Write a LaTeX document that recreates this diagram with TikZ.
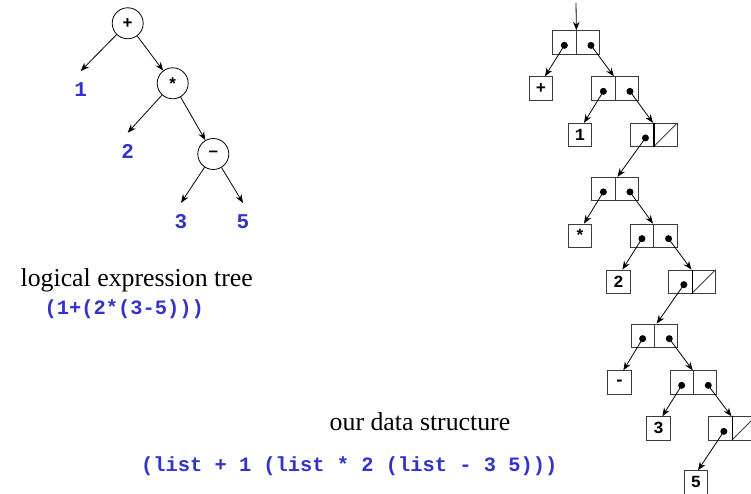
\documentclass[tikz,border=0pt]{standalone}
\usepackage{fontspec}
\setmainfont{Liberation Serif}
\setsansfont{Liberation Sans}
\setmonofont{Liberation Mono}
\usetikzlibrary{arrows.meta,calc}
\definecolor{codeblue}{RGB}{51,51,204}
\definecolor{boxgray}{RGB}{60,60,60}
\newcommand\conscell[3]{%
  \node[half] (#1a) at (#2+11.65,#3+11.65) {};
  \node[half] (#1b) at (#2+34.95,#3+11.65) {};
  \coordinate (#1l) at ($(#1a.center)+(0,3)$);
  \coordinate (#1r) at ($(#1b.center)+(3.3,3)$);
  \fill (#1l) circle (3.5pt);
  \fill (#1r) circle (3.5pt);
}
\newcommand\nilcell[3]{%
  \node[half] (#1a) at (#2+11.65,#3+11.65) {};
  \node[half] (#1b) at (#2+34.95,#3+11.65) {};
  \draw[boxgray,line width=0.8pt] (#1b.south west) -- (#1b.north east);
  \draw[line width=1.5pt] (#1a.north east) -- (#1a.south east);
  \coordinate (#1l) at ($(#1a.center)+(3.5,3)$);
  \fill (#1l) circle (3.5pt);
}
\begin{document}
\begin{tikzpicture}[x=1pt,y=-1pt,
  arr/.style={-{Stealth[length=8.5pt,width=6.5pt]},line width=0.8pt},
  opnode/.style={circle,draw,line width=0.8pt,minimum size=31pt,inner sep=0pt,
    font=\sffamily\bfseries\fontsize{17}{20}\selectfont},
  leaf/.style={text=codeblue,font=\ttfamily\bfseries\fontsize{21}{24}\selectfont,
    inner sep=0pt,outer sep=12pt},
  half/.style={rectangle,draw=boxgray,line width=0.8pt,minimum size=23.3pt,inner sep=0pt},
  atom/.style={half,font=\ttfamily\bfseries\fontsize{17}{20}\selectfont},
  caption/.style={anchor=base,font=\fontsize{25.8}{30}\selectfont},
  code/.style={anchor=base,text=codeblue,font=\ttfamily\bfseries\fontsize{20.4}{24}\selectfont}
]
\clip (0,0) rectangle (751,494);
% ---------- expression tree ----------
\node[opnode] (tplus) at (127.7,23.3) {+};
\node[opnode] (ttimes) at (172.7,83.3) {*};
\node[opnode] (tminus) at (213.3,154) {–};
\node[leaf] (t1) at (80.7,90) {1};
\node[leaf] (t2) at (127.7,151.7) {2};
\node[leaf] (t3) at (181,222) {3};
\node[leaf] (t5) at (243,222) {5};
\draw[arr] (tplus) -- (t1.north);
\draw[arr] (tplus) -- (ttimes);
\draw[arr] (ttimes) -- (t2.north);
\draw[arr] (ttimes) -- (tminus);
\draw[arr] (tminus) -- (t3.north);
\draw[arr] (tminus) -- (t5.north);
\node[caption] (cap1) at (136.7,286.7) {logical expression tree};
\node[code] (code1) at (124.2,314) {(1+(2*(3-5)))};
\node[caption] (cap2) at (420,430) {our data structure};
\node[code] (code2) at (349.2,471) {(list + 1 (list * 2 (list - 3 5)))};
% ---------- data structure ----------
\coordinate (top) at (576,3);
\conscell{c1}{552.7}{30.7}
\conscell{c2}{591.7}{76.7}
\nilcell{c3}{630.3}{123.3}
\conscell{c4}{591.7}{177.3}
\conscell{c5}{630.3}{224}
\nilcell{c6}{668.7}{270}
\conscell{c7}{631}{324}
\conscell{c8}{670}{370.7}
\nilcell{c9}{708.7}{416.7}
\node[atom] (aplus) at (529.3+11.65,76.7+11.65) {+};
\node[atom] (aone) at (568.3+11.65,123.3+11.65) {1};
\node[atom] (atimes) at (568.3+11.65,224+11.65) {*};
\node[atom] (atwo) at (606.7+11.65,270+11.65) {2};
\node[atom] (aminus) at (607.7+11.65,370.7+11.65) {-};
\node[atom] (athree) at (646.7+11.65,416.7+11.65) {3};
\node[atom] (afive) at (684.3+11.65,470.7+11.65) {5};
\draw[arr] (top) -- (c1a.north east);
\draw[arr] (c1l) -- ([xshift=4pt]aplus.north);
\draw[arr] (c1r) -- ([xshift=-1.5pt]c2a.north east);
\draw[arr] (c2l) -- ([xshift=4pt]aone.north);
\draw[arr] (c2r) -- ([xshift=-1pt]c3a.north east);
\draw[arr] (c3l) -- ([xshift=2pt]c4a.north east);
\draw[arr] (c4l) -- ([xshift=4pt]atimes.north);
\draw[arr] (c4r) -- ([xshift=-1pt]c5a.north east);
\draw[arr] (c5l) -- ([xshift=4pt]atwo.north);
\draw[arr] (c5r) -- ([xshift=-1pt]c6a.north east);
\draw[arr] (c6l) -- ([xshift=2pt]c7a.north east);
\draw[arr] (c7l) -- ([xshift=4pt]aminus.north);
\draw[arr] (c7r) -- ([xshift=-1pt]c8a.north east);
\draw[arr] (c8l) -- ([xshift=4pt]athree.north);
\draw[arr] (c8r) -- ([xshift=-1pt]c9a.north east);
\draw[arr] (c9l) -- ([xshift=2pt]afive.north);
\end{tikzpicture}
\end{document}
